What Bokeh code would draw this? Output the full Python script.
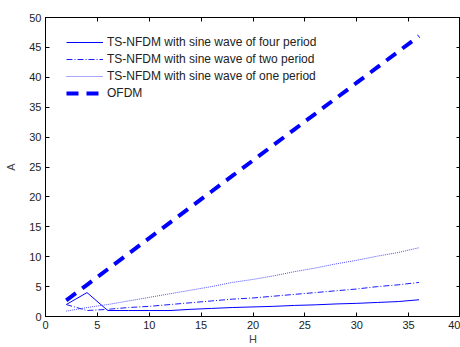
from bokeh.plotting import figure
from bokeh.models import Legend, LegendItem, LinearAxis, FixedTicker, Range1d, CustomJSTickFormatter
from bokeh.embed import file_html
from bokeh.resources import INLINE

H = [2, 4, 6, 8, 10, 12, 14, 16, 18, 20, 22, 24, 26, 28, 30, 32, 34, 36]
four_period = [2.0, 4.0, 1.0, 1.0, 1.0, 1.0, 1.2, 1.35, 1.5, 1.6, 1.7, 1.85, 1.95, 2.1, 2.2, 2.35, 2.5, 2.8]
two_period = [2.0, 1.0, 1.2, 1.5, 1.7, 2.0, 2.3, 2.6, 2.9, 3.1, 3.4, 3.7, 4.0, 4.3, 4.6, 5.0, 5.3, 5.7]
one_period = [0.9, 1.5, 2.0, 2.6, 3.2, 3.8, 4.4, 5.0, 5.7, 6.2, 6.8, 7.5, 8.1, 8.8, 9.4, 10.1, 10.7, 11.5]
ofdm = [2.7, 5.3, 7.9, 10.5, 13.1, 15.7, 18.3, 20.9, 23.5, 26.1, 28.7, 31.3, 33.9, 36.5, 39.1, 41.7, 44.3, 46.9]

x_ticks = [0, 5, 10, 15, 20, 25, 30, 35, 40]
y_ticks = [0, 5, 10, 15, 20, 25, 30, 35, 40, 45, 50]
labels = ["TS-NFDM with sine wave of four period",
          "TS-NFDM with sine wave of two period",
          "TS-NFDM with sine wave of one period",
          "OFDM"]

FONT = "Liberation Sans"
BLUE = "#0000ff"

p = figure(width=460, height=347, output_backend="svg", toolbar_location=None,
           x_range=Range1d(0, 40), y_range=Range1d(0, 50),
           min_border_left=45, min_border_top=17, min_border_right=0, min_border_bottom=10)
p.grid.visible = False
p.outline_line_color = "black"
p.outline_line_width = 1
p.background_fill_color = "white"
p.border_fill_color = "white"

r1 = p.line(H, four_period, line_color=BLUE, line_width=1)
r2 = p.line(H, two_period, line_color="#1a1aff", line_width=1, line_dash="6 2 1 2")
r3 = p.line(H, one_period, line_color="#3030ff", line_width=1, line_dash="1 1", line_alpha=0.85)
r4 = p.line(H, ofdm, line_color=BLUE, line_width=4, line_dash="12 8")

for ax in (p.xaxis[0], p.yaxis[0]):
    ax.major_tick_in = 4
    ax.major_tick_out = 0
    ax.minor_tick_line_color = None
    ax.axis_line_color = "black"
    ax.major_label_text_font = FONT
    ax.major_label_text_font_size = "11px"
    ax.major_label_text_color = "#222222"
    ax.axis_label_text_font = FONT
    ax.axis_label_text_font_size = "11px"
    ax.axis_label_text_font_style = "normal"
p.xaxis[0].ticker = FixedTicker(ticks=x_ticks)
p.yaxis[0].ticker = FixedTicker(ticks=y_ticks)
p.xaxis[0].axis_label = "H"
p.yaxis[0].axis_label = "A"
p.xaxis[0].major_label_standoff = 4
p.xaxis[0].axis_label_standoff = 1
p.yaxis[0].major_label_standoff = 4
p.yaxis[0].axis_label_standoff = 9

blank = CustomJSTickFormatter(code="return ''")
top = LinearAxis(ticker=FixedTicker(ticks=x_ticks), formatter=blank,
                 major_tick_in=4, major_tick_out=0, minor_tick_line_color=None,
                 major_label_standoff=0)
right = LinearAxis(ticker=FixedTicker(ticks=y_ticks), formatter=blank,
                   major_tick_in=4, major_tick_out=0, minor_tick_line_color=None,
                   major_label_standoff=0)
p.add_layout(top, "above")
p.add_layout(right, "right")

legend = Legend(items=[LegendItem(label=labels[0], renderers=[r1]),
                       LegendItem(label=labels[1], renderers=[r2]),
                       LegendItem(label=labels[2], renderers=[r3]),
                       LegendItem(label=labels[3], renderers=[r4])],
                location=(21, 216))
legend.border_line_color = None
legend.background_fill_alpha = 0
legend.label_text_font = FONT
legend.label_text_font_size = "12px"
legend.label_text_color = "#222222"
legend.glyph_width = 37
legend.glyph_height = 14
legend.spacing = 3
legend.label_standoff = 4
legend.padding = 0
legend.margin = 0
legend.label_height = 14
p.add_layout(legend)

open("out.html", "w").write(file_html(p, INLINE))
